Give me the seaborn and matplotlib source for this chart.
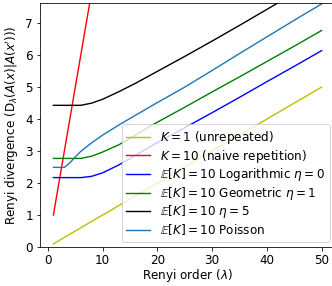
import numpy as np
import pandas as pd
import matplotlib.pyplot as plt
import seaborn as sns

# Renyi order grid and curves
lam = [1, 2, 3, 4, 5, 6, 8, 10, 13, 16, 19, 25, 30, 35, 40, 45, 50]
k1_unrepeated = [0.1, 0.2, 0.3, 0.4, 0.5, 0.6, 0.8, 1.0, 1.3, 1.6, 1.9, 2.5, 3.0, 3.5, 4.0, 4.5, 5.0]
k10_naive = [1, 2, 3, 4, 5, 6, 8, 10, 13, 16, 19, 25, 30, 35, 40, 45, 50]
log_eta0 = [2.17, 2.17, 2.17, 2.17, 2.17, 2.17, 2.21, 2.32, 2.57, 2.87, 3.17, 3.73, 4.20, 4.68, 5.17, 5.65, 6.14]
geom_eta1 = [2.77, 2.77, 2.77, 2.77, 2.77, 2.77, 2.84, 2.97, 3.20, 3.50, 3.81, 4.37, 4.85, 5.32, 5.80, 6.28, 6.77]
eta5 = [4.43, 4.43, 4.43, 4.43, 4.43, 4.43, 4.50, 4.62, 4.86, 5.12, 5.40, 5.96, 6.44, 6.93, 7.43, 7.93, 8.43]
poisson = [2.49, 2.49, 2.49, 2.63, 2.82, 2.99, 3.26, 3.50, 3.82, 4.12, 4.42, 5.00, 5.52, 6.05, 6.57, 7.09, 7.60]

labels = [
    r'$K=1$ (unrepeated)',
    r'$K=10$ (naive repetition)',
    r'$\mathbb{E}[K]=10$ Logarithmic $\eta=0$',
    r'$\mathbb{E}[K]=10$ Geometric $\eta=1$',
    r'$\mathbb{E}[K]=10$ $\eta=5$',
    r'$\mathbb{E}[K]=10$ Poisson',
]
series = [k1_unrepeated, k10_naive, log_eta0, geom_eta1, eta5, poisson]
colors = ['y', 'r', 'b', 'g', 'k', '#1f77b4']

plt.rcParams['font.size'] = 12

fig = plt.figure(figsize=(332 / 72, 286 / 72), dpi=72)
ax = fig.add_axes([40 / 332, 39 / 286, 295 / 332, 244 / 286])

for vals, lab, col in zip(series, labels, colors):
    df = pd.DataFrame({'lam': lam, 'div': vals})
    sns.lineplot(data=df, x='lam', y='div', color=col, label=lab, ax=ax, linewidth=1.4)

ax.set_ylim(0, 7.63)
ax.set_xlim(-1.45, 52.45)
ax.set_xticks([0, 10, 20, 30, 40, 50])
ax.set_xlabel(r'Renyi order ($\lambda$)', labelpad=0)
ax.set_ylabel(r"Renyi divergence $(\mathrm{D}_\lambda(A(x)|A(x')))$")
ax.legend(loc='lower right', labelspacing=0.13, borderaxespad=0.45)

fig.savefig('out.png', dpi=72)
